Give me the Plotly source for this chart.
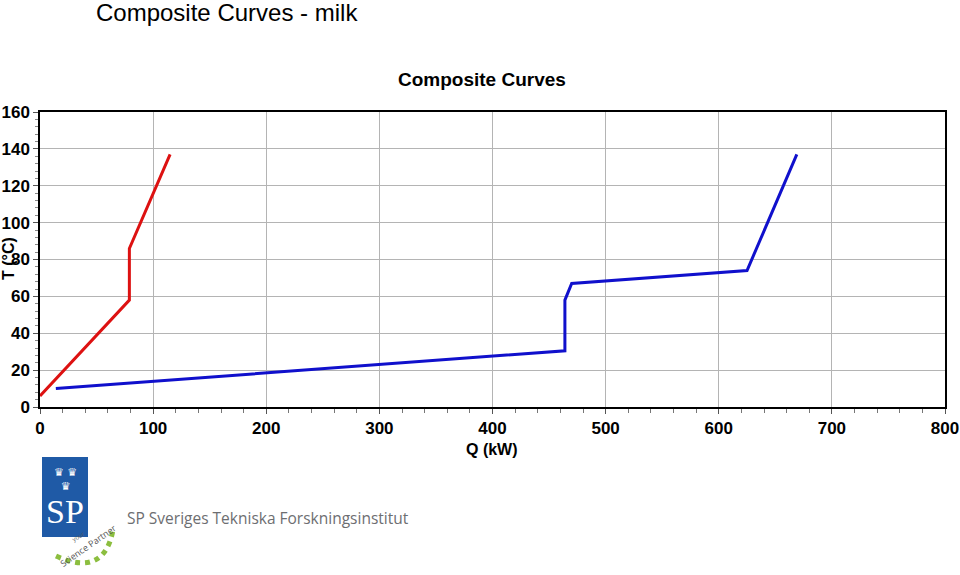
import plotly.graph_objects as go

# Data
hot_q = [0, 79, 79, 115]
hot_t = [6, 58, 86, 137]
cold_q = [14, 464, 464, 470, 625, 669]
cold_t = [10, 30.5, 58, 67, 74, 137]

x_ticks = [0, 100, 200, 300, 400, 500, 600, 700, 800]
y_ticks = [0, 20, 40, 60, 80, 100, 120, 140, 160]

W, H = 960, 575
L, R, T, B = 40, 15, 112, 168

fig = go.Figure()
fig.add_trace(go.Scatter(x=hot_q, y=hot_t, mode="lines",
                         line=dict(color="#dd1111", width=3), showlegend=False))
fig.add_trace(go.Scatter(x=cold_q, y=cold_t, mode="lines",
                         line=dict(color="#1010cc", width=3), showlegend=False))

tickfont = dict(family="Liberation Sans, Arial, sans-serif", size=17, color="black", weight="bold")

fig.update_xaxes(range=[0, 800], tickvals=x_ticks, ticktext=[str(v) for v in x_ticks],
                 showgrid=True, gridcolor="#b4b4b4", gridwidth=1,
                 showline=True, linecolor="black", linewidth=1.5, mirror=True,
                 ticks="outside", ticklen=5, tickcolor="#555",
                 minor=dict(dtick=20, ticks="outside", ticklen=4, tickcolor="#777", showgrid=False),
                 tickfont=tickfont, zeroline=False, fixedrange=True)
fig.update_yaxes(range=[0, 160], tickvals=y_ticks, ticktext=[str(v) for v in y_ticks],
                 showgrid=True, gridcolor="#b4b4b4", gridwidth=1,
                 showline=True, linecolor="black", linewidth=1.5, mirror=True,
                 ticks="outside", ticklen=5, tickcolor="#555",
                 minor=dict(dtick=4, ticks="outside", ticklen=3, tickcolor="#888", showgrid=False),
                 tickfont=tickfont, zeroline=False, fixedrange=True)

pw = W - L - R
ph = H - T - B

def px(xp):
    return (xp - L) / pw

def py(yp):
    return 1 - (yp - T) / ph

annotations = [
    dict(text="Composite Curves - milk", x=px(94), y=py(12), xref="paper", yref="paper",
         xanchor="left", yanchor="middle", showarrow=False,
         font=dict(family="Liberation Sans, Arial, sans-serif", size=24, color="black")),
    dict(text="<b>Composite Curves</b>", x=px(482), y=py(80), xref="paper", yref="paper",
         xanchor="center", yanchor="middle", showarrow=False,
         font=dict(family="Liberation Sans, Arial, sans-serif", size=19, color="black")),
    dict(text="<b>Q (kW)</b>", x=px(492), y=py(449), xref="paper", yref="paper",
         xanchor="center", yanchor="middle", showarrow=False,
         font=dict(family="Liberation Sans, Arial, sans-serif", size=16, color="black")),
    dict(text="<b>T (°C)</b>", x=px(8), y=py(259), xref="paper", yref="paper",
         xanchor="center", yanchor="middle", showarrow=False, textangle=-90,
         font=dict(family="Liberation Sans, Arial, sans-serif", size=16, color="black")),
    # Logo text
    dict(text="SP Sveriges Tekniska Forskningsinstitut", x=px(125), y=py(518), xref="paper", yref="paper",
         xanchor="left", yanchor="middle", showarrow=False,
         font=dict(family="Open Sans, DejaVu Sans, sans-serif", size=15.5, color="#6d6e71")),
    dict(text="SP", x=px(65), y=py(511), xref="paper", yref="paper",
         xanchor="center", yanchor="middle", showarrow=False,
         font=dict(family="Liberation Serif, DejaVu Serif, serif", size=34, color="white")),
    dict(text="♛ ♛<br>♛", x=px(65), y=py(479), xref="paper", yref="paper",
         xanchor="center", yanchor="middle", showarrow=False,
         font=dict(family="DejaVu Sans", size=11, color="white")),
    dict(text="Science Partner", x=px(88), y=py(545), xref="paper", yref="paper",
         xanchor="center", yanchor="middle", showarrow=False, textangle=-35,
         font=dict(family="Open Sans, DejaVu Sans, sans-serif", size=9, color="#555")),
    dict(text="your", x=px(78), y=py(537), xref="paper", yref="paper",
         xanchor="center", yanchor="middle", showarrow=False, textangle=-30,
         font=dict(family="Open Sans, DejaVu Sans, sans-serif", size=6, color="#555")),
]

shapes = [
    dict(type="rect", xref="paper", yref="paper", x0=px(42), x1=px(88), y0=py(537), y1=py(457),
         fillcolor="#1f5aa6", line=dict(width=0), layer="above"),
    dict(type="path", xref="paper", yref="paper",
         path=f"M {px(56)} {py(556)} Q {px(104)} {py(578)} {px(113)} {py(530)}",
         line=dict(color="#8cbe3f", width=5, dash="dot"), layer="above"),
]

fig.update_layout(width=W, height=H, margin=dict(l=L, r=R, t=T, b=B, autoexpand=False),
                  paper_bgcolor="white", plot_bgcolor="white",
                  annotations=annotations, shapes=shapes,
                  font=dict(family="Liberation Sans, Arial, sans-serif"))

fig.write_html("out.html")
